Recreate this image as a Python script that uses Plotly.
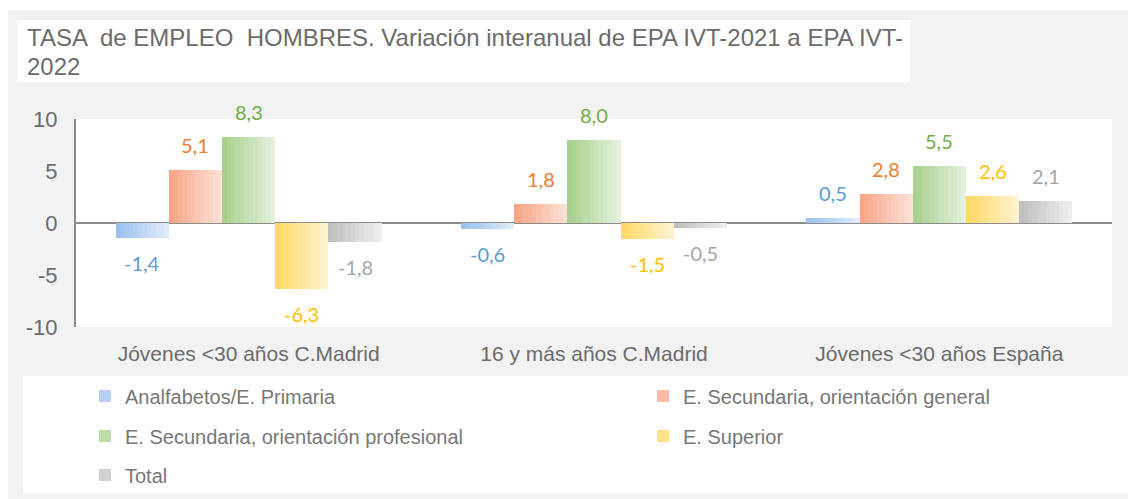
import plotly.graph_objects as go

# ---- data ----
categories = ["Jóvenes <30 años C.Madrid", "16 y más años C.Madrid", "Jóvenes <30 años España"]
series_names = [
    "Analfabetos/E. Primaria",
    "E. Secundaria, orientación general",
    "E. Secundaria, orientación profesional",
    "E. Superior",
    "Total",
]
primaria = [-1.4, -0.6, 0.5]
sec_general = [5.1, 1.8, 2.8]
sec_profesional = [8.3, 8.0, 5.5]
superior = [-6.3, -1.5, 2.6]
total = [-1.8, -0.5, 2.1]
series_values = [primaria, sec_general, sec_profesional, superior, total]
y_ticks = [-10, -5, 0, 5, 10]
title_lines = [
    "TASA  de EMPLEO  HOMBRES. Variación interanual de EPA IVT-2021 a EPA IVT-",
    "2022",
]

# ---- styling ----
grad_dark = [(155, 194, 239), (248, 166, 136), (169, 209, 142), (255, 217, 102), (191, 191, 191)]
grad_light = [(224, 235, 250), (253, 224, 213), (228, 240, 220), (255, 243, 207), (238, 238, 238)]
label_colors = ["#5B9BD5", "#ED7D31", "#70AD47", "#FFC000", "#A5A5A5"]
# legend slot (left edge px, row centre px) for each series: two columns, three rows
legend_slots = [(85, 396), (643, 396), (85, 436), (643, 436), (85, 475)]
title_rows = [37, 66]

W, H = 1128, 499
ML, MR, MT, MB = 76, 16, 119, 172
bar_w = 0.154          # width of one bar in category units
n_slices = 12          # vertical slices used to shade each bar
text_font = "Liberation Sans, Arial, sans-serif"
label_font = "Lato, Calibri, sans-serif"
text_color = "#6b6b6b"

pw, ph = W - ML - MR, H - MT - MB


def px_x(p):
    return (p - ML) / pw


def px_y(p):
    return 1 - (p - MT) / ph


def mix(c0, c1, t):
    return "rgb({},{},{})".format(*[round(a + (b - a) * t) for a, b in zip(c0, c1)])


fig = go.Figure()
n_series = len(series_names)
legend_layouts = {}
for i, (name, vals) in enumerate(zip(series_names, series_values)):
    leg_id = "legend" if i == 0 else f"legend{i + 1}"
    lx, ly = legend_slots[i]
    legend_layouts[leg_id] = dict(
        orientation="v", xanchor="left", yanchor="middle",
        x=px_x(lx), y=px_y(ly),
        bgcolor="rgba(0,0,0,0)", borderwidth=0,
        font=dict(family=text_font, size=20, color="#777777"),
        itemclick=False, itemdoubleclick=False,
    )
    centre_off = (i - (n_series - 1) / 2) * bar_w
    for j in range(n_slices):
        t = j / (n_slices - 1)
        slice_off = centre_off - bar_w / 2 + (j + 0.5) * bar_w / n_slices
        fig.add_trace(go.Bar(
            x=[k + slice_off for k in range(len(categories))],
            y=vals,
            width=bar_w / n_slices,
            name=name,
            legendgroup=name,
            legend=leg_id,
            showlegend=(j == n_slices // 3),
            marker=dict(color=mix(grad_dark[i], grad_light[i], t), line=dict(width=0)),
            hoverinfo="skip",
        ))
    # value labels
    for k, v in enumerate(vals):
        fig.add_annotation(
            x=k + centre_off, y=v, xref="x", yref="y",
            text=f"{v:.1f}".replace(".", ","),
            showarrow=False,
            yshift=25 if v >= 0 else -25,
            font=dict(family=label_font, size=20, color=label_colors[i]),
        )

# two-line title
for line, row in zip(title_lines, title_rows):
    fig.add_annotation(
        xref="paper", yref="paper",
        x=px_x(25), y=px_y(row),
        xanchor="left", yanchor="middle", align="left",
        text=line, showarrow=False,
        font=dict(family=text_font, size=24, color=text_color),
    )

# background panels: outer grey area, title box, plot area, legend box
panels = [
    (8, 10, W, H, "#f2f2f2"),
    (17, 20, 910, 82, "#ffffff"),
    (ML, MT, W - MR, H - MB, "#ffffff"),
    (23, 376, W, 493, "#ffffff"),
]
for x0, y0, x1, y1, col in panels:
    fig.add_shape(type="rect", xref="paper", yref="paper", layer="below",
                  x0=px_x(x0), x1=px_x(x1), y0=px_y(y1), y1=px_y(y0),
                  fillcolor=col, line=dict(width=0))

fig.update_layout(
    width=W, height=H,
    margin=dict(l=ML, r=MR, t=MT, b=MB, pad=0, autoexpand=False),
    paper_bgcolor="#ffffff",
    plot_bgcolor="rgba(0,0,0,0)",
    barmode="overlay",
    bargap=0,
    separators=",.",
    showlegend=True,
    xaxis=dict(
        range=[-0.5, len(categories) - 0.5],
        tickvals=list(range(len(categories))), ticktext=categories,
        showgrid=False, zeroline=False, showline=False, ticks="",
        ticklabelstandoff=12,
        tickfont=dict(family=text_font, size=21, color=text_color),
        fixedrange=True,
    ),
    yaxis=dict(
        range=[-10, 10], tickvals=y_ticks, ticktext=[str(v) for v in y_ticks],
        showgrid=False,
        zeroline=True, zerolinecolor="#8c8c8c", zerolinewidth=2,
        showline=True, linecolor="#8c8c8c", linewidth=2,
        ticks="", ticklabelstandoff=12,
        tickfont=dict(family=text_font, size=22, color=text_color),
        fixedrange=True,
    ),
    **legend_layouts,
)

fig.write_html("out.html")
